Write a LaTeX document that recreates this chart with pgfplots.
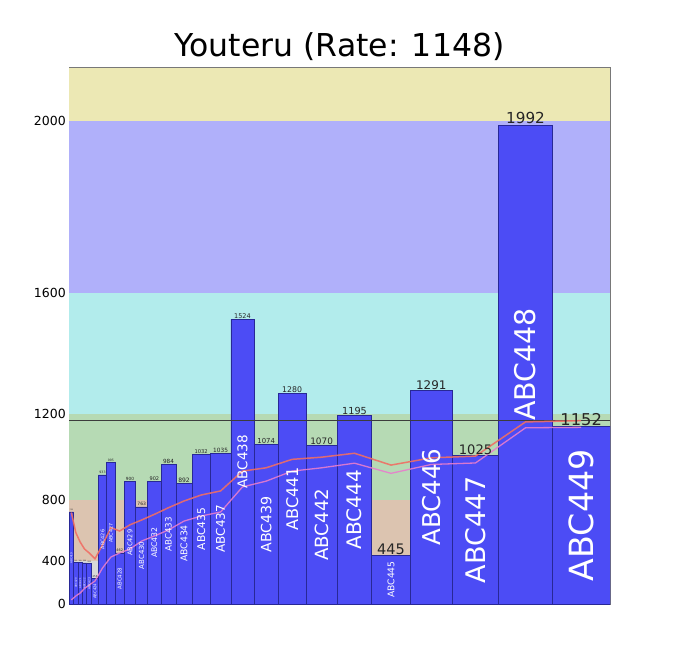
\documentclass[border=0pt]{standalone}
\usepackage{fontspec}
\setmainfont{DejaVu Sans}
\usepackage{pgfplots}
\pgfplotsset{compat=1.18}
\usetikzlibrary{calc}

\definecolor{bgy}{RGB}{236,232,180}
\definecolor{bgb}{RGB}{176,176,250}
\definecolor{bgc}{RGB}{178,236,236}
\definecolor{bgg}{RGB}{182,218,180}
\definecolor{bgt}{RGB}{220,196,176}
\definecolor{bgs}{RGB}{216,216,216}
\definecolor{barc}{RGB}{76,76,245}
\definecolor{bare}{RGB}{40,40,150}
\definecolor{lup}{RGB}{240,110,100}
\definecolor{llo}{RGB}{232,125,205}
\definecolor{frame}{RGB}{120,120,120}

% center, value, value font, name, name font
\newcommand{\bl}[5]{%
  \node[anchor=south, inner sep=0pt, yshift=0.8bp, text=black!85,
        font=\fontsize{#3bp}{#3bp}\selectfont] at (axis cs:#1,#2) {#2};
  \node[rotate=90, text=white, inner sep=0pt,
        font=\fontsize{#5bp}{#5bp}\selectfont] at ($(axis cs:#1,0)!0.5!(axis cs:#1,#2)$) {#4};
}

\begin{document}
\begin{tikzpicture}
\begin{axis}[
  at={(0,0)}, anchor=south west,
  scale only axis, width=541bp, height=536bp,
  enlargelimits=false,
  xmin=69, xmax=610, ymin=0, ymax=2100,
  y coord trafo/.code={\pgfmathparse{exp(#1/1154.156)}},
  y coord inv trafo/.code={\pgfmathparse{1154.156*ln(#1)}},
  xtick=\empty,
  ytick={0,400,800,1200,1600,2000},
  yticklabels={0,400,800,1200,1600,2000},
  major tick length=0pt,
  yticklabel style={font=\fontsize{12.5bp}{14bp}\selectfont, inner sep=0pt, xshift=-3bp},
  axis line style={frame, line width=1bp},
]
% rating bands
\addplot[fill=bgs, draw=none] coordinates {(69,0) (610,0) (610,400) (69,400)} -- cycle;
\addplot[fill=bgt, draw=none] coordinates {(69,400) (610,400) (610,800) (69,800)} -- cycle;
\addplot[fill=bgg, draw=none] coordinates {(69,800) (610,800) (610,1200) (69,1200)} -- cycle;
\addplot[fill=bgc, draw=none] coordinates {(69,1200) (610,1200) (610,1600) (69,1600)} -- cycle;
\addplot[fill=bgb, draw=none] coordinates {(69,1600) (610,1600) (610,2000) (69,2000)} -- cycle;
\addplot[fill=bgy, draw=none] coordinates {(69,2000) (610,2000) (610,2100) (69,2100)} -- cycle;

% performance bars (left edge, value)
\addplot[ybar interval, fill=barc, draw=bare, line width=0.6bp] coordinates {
 (69,733) (73.7,392) (78,389) (82.3,386) (86.7,383) (91.7,255)
 (98.3,933) (106.7,995) (115,462) (124.3,900) (135.7,763) (147.7,902)
 (161,984) (176,892) (192,1032) (210.3,1035) (230.9,1524) (254,1074)
 (278.3,1280) (306,1070) (337.3,1195) (371.7,445) (410.3,1291)
 (452.3,1025) (498.7,1992) (552.3,1152) (610,1152)
};

% current inner rating line
\addplot[color={rgb,255:red,60;green,60;blue,60}, line width=1bp] coordinates {(69,1175) (610,1175)};

% inner rating
\addplot[lup, line width=1.5bp, opacity=0.9] coordinates {
 (71.35,730) (75.85,604) (80.15,541) (84.5,491) (89.2,462) (95,418)
 (102.5,520) (110.85,637) (119.65,615) (130,655) (141.7,685) (154.35,719)
 (168.5,758) (184,796) (201.15,829) (220.6,851) (242.45,952) (266.15,968)
 (292.15,1008) (321.65,1018) (354.5,1036) (391,981) (431.3,1015)
 (475.5,1023) (525.5,1170) (581.15,1175)
};
% displayed rating
\addplot[llo, line width=1.3bp, opacity=0.9] coordinates {
 (71.35,45) (75.85,86) (80.15,116) (84.5,161) (89.2,194) (95,231)
 (102.5,344) (110.85,431) (119.65,462) (130,491) (141.7,548) (154.35,582)
 (168.5,622) (184,678) (201.15,709) (220.6,733) (242.45,872) (266.15,902)
 (292.15,952) (321.65,968) (354.5,990) (391,941) (431.3,984)
 (475.5,991) (525.5,1146) (581.15,1148)
};

\bl{71.35}{733}{1.8}{ABC419}{2.7}
\bl{75.85}{392}{1.6}{ABC420}{2.5}
\bl{80.15}{389}{1.6}{ABC421}{2.5}
\bl{84.5}{386}{1.7}{ABC422}{2.55}
\bl{89.2}{383}{1.9}{ABC423}{2.9}
\bl{95}{255}{2.5}{ABC424}{3.85}
\bl{102.5}{933}{3.2}{ABC426}{4.9}
\bl{110.85}{995}{3.1}{ABC427}{4.8}
\bl{119.65}{462}{3.5}{ABC428}{5.4}
\bl{130}{900}{4.3}{ABC429}{6.6}
\bl{141.7}{763}{4.5}{ABC430}{7.0}
\bl{154.35}{902}{5.0}{ABC432}{7.75}
\bl{168.5}{984}{5.7}{ABC433}{8.7}
\bl{184}{892}{6.0}{ABC434}{9.3}
\bl{201.15}{1032}{5.2}{ABC435}{10.7}
\bl{220.6}{1035}{5.8}{ABC437}{12.0}
\bl{242.45}{1524}{6.5}{ABC438}{13.5}
\bl{266.15}{1074}{6.9}{ABC439}{14.2}
\bl{292.15}{1280}{7.8}{ABC441}{16.1}
\bl{321.65}{1070}{8.9}{ABC442}{18.2}
\bl{354.5}{1195}{9.7}{ABC444}{20.0}
\bl{391}{445}{14.5}{ABC445}{9.2}
\bl{431.3}{1291}{11.9}{ABC446}{24.5}
\bl{475.5}{1025}{13.1}{ABC447}{27.0}
\bl{525.5}{1992}{15.2}{ABC448}{28.5}
\bl{581.15}{1152}{16.3}{ABC449}{33.3}

\node[anchor=west, inner sep=0pt, xshift=6bp, font=\fontsize{15bp}{15bp}\selectfont]
  at (axis cs:610,1175) {1175};
\end{axis}
\node[anchor=base, inner sep=0pt, font=\fontsize{31.5bp}{31.5bp}\selectfont]
  at (270.5bp,547bp) {Youteru (Rate: 1148)};
\path (-69bp,-45bp) rectangle (611bp,604bp);
\end{tikzpicture}
\end{document}
